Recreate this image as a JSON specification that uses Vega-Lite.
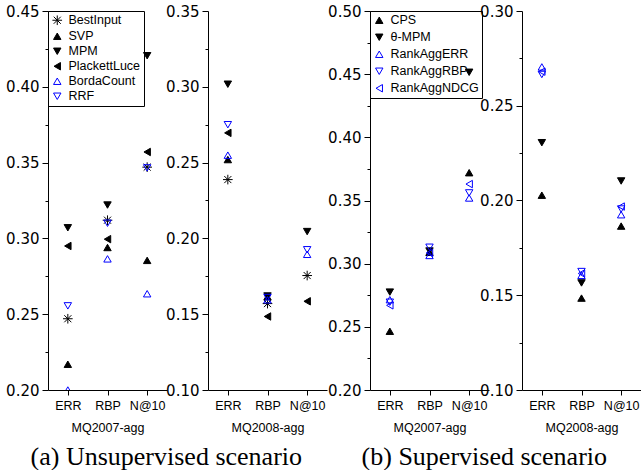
{
  "$schema": "https://vega.github.io/schema/vega-lite/v6.json",
  "padding": {"top": 4, "left": 5, "right": 0, "bottom": 0},
  "config": {
    "view": {"stroke": null},
    "axis": {"domainColor": "black", "tickColor": "black", "labelColor": "black", "titleColor": "black", "grid": false, "domainWidth": 1, "tickWidth": 1}
  },
  "datasets": {
    "unsup": [
      {"d": "MQ2007-agg", "m": "ERR", "s": "BestInput", "v": 0.247},
      {"d": "MQ2007-agg", "m": "ERR", "s": "SVP", "v": 0.217},
      {"d": "MQ2007-agg", "m": "ERR", "s": "MPM", "v": 0.307},
      {"d": "MQ2007-agg", "m": "ERR", "s": "PlackettLuce", "v": 0.295},
      {"d": "MQ2007-agg", "m": "ERR", "s": "BordaCount", "v": 0.2},
      {"d": "MQ2007-agg", "m": "ERR", "s": "RRF", "v": 0.2555},
      {"d": "MQ2007-agg", "m": "RBP", "s": "BestInput", "v": 0.312},
      {"d": "MQ2007-agg", "m": "RBP", "s": "SVP", "v": 0.294},
      {"d": "MQ2007-agg", "m": "RBP", "s": "MPM", "v": 0.322},
      {"d": "MQ2007-agg", "m": "RBP", "s": "PlackettLuce", "v": 0.2995},
      {"d": "MQ2007-agg", "m": "RBP", "s": "BordaCount", "v": 0.2865},
      {"d": "MQ2007-agg", "m": "RBP", "s": "RRF", "v": 0.31},
      {"d": "MQ2007-agg", "m": "N@10", "s": "BestInput", "v": 0.347},
      {"d": "MQ2007-agg", "m": "N@10", "s": "SVP", "v": 0.2855},
      {"d": "MQ2007-agg", "m": "N@10", "s": "MPM", "v": 0.4205},
      {"d": "MQ2007-agg", "m": "N@10", "s": "PlackettLuce", "v": 0.357},
      {"d": "MQ2007-agg", "m": "N@10", "s": "BordaCount", "v": 0.2635},
      {"d": "MQ2007-agg", "m": "N@10", "s": "RRF", "v": 0.3465},
      {"d": "MQ2008-agg", "m": "ERR", "s": "BestInput", "v": 0.2388},
      {"d": "MQ2008-agg", "m": "ERR", "s": "SVP", "v": 0.252},
      {"d": "MQ2008-agg", "m": "ERR", "s": "MPM", "v": 0.3017},
      {"d": "MQ2008-agg", "m": "ERR", "s": "PlackettLuce", "v": 0.2696},
      {"d": "MQ2008-agg", "m": "ERR", "s": "BordaCount", "v": 0.2549},
      {"d": "MQ2008-agg", "m": "ERR", "s": "RRF", "v": 0.275},
      {"d": "MQ2008-agg", "m": "RBP", "s": "BestInput", "v": 0.157},
      {"d": "MQ2008-agg", "m": "RBP", "s": "SVP", "v": 0.1615},
      {"d": "MQ2008-agg", "m": "RBP", "s": "MPM", "v": 0.162},
      {"d": "MQ2008-agg", "m": "RBP", "s": "PlackettLuce", "v": 0.1485},
      {"d": "MQ2008-agg", "m": "RBP", "s": "BordaCount", "v": 0.1595},
      {"d": "MQ2008-agg", "m": "RBP", "s": "RRF", "v": 0.161},
      {"d": "MQ2008-agg", "m": "N@10", "s": "BestInput", "v": 0.1755},
      {"d": "MQ2008-agg", "m": "N@10", "s": "MPM", "v": 0.2045},
      {"d": "MQ2008-agg", "m": "N@10", "s": "PlackettLuce", "v": 0.1585},
      {"d": "MQ2008-agg", "m": "N@10", "s": "BordaCount", "v": 0.1895},
      {"d": "MQ2008-agg", "m": "N@10", "s": "RRF", "v": 0.1925}
    ],
    "sup": [
      {"d": "MQ2007-agg", "m": "ERR", "s": "CPS", "v": 0.2465},
      {"d": "MQ2007-agg", "m": "ERR", "s": "θ-MPM", "v": 0.2775},
      {"d": "MQ2007-agg", "m": "ERR", "s": "RankAggERR", "v": 0.2715},
      {"d": "MQ2007-agg", "m": "ERR", "s": "RankAggRBP", "v": 0.2695},
      {"d": "MQ2007-agg", "m": "ERR", "s": "RankAggNDCG", "v": 0.267},
      {"d": "MQ2007-agg", "m": "RBP", "s": "CPS", "v": 0.309},
      {"d": "MQ2007-agg", "m": "RBP", "s": "θ-MPM", "v": 0.31},
      {"d": "MQ2007-agg", "m": "RBP", "s": "RankAggERR", "v": 0.3065},
      {"d": "MQ2007-agg", "m": "RBP", "s": "RankAggRBP", "v": 0.313},
      {"d": "MQ2007-agg", "m": "RBP", "s": "RankAggNDCG", "v": 0.3085},
      {"d": "MQ2007-agg", "m": "N@10", "s": "CPS", "v": 0.372},
      {"d": "MQ2007-agg", "m": "N@10", "s": "θ-MPM", "v": 0.4515},
      {"d": "MQ2007-agg", "m": "N@10", "s": "RankAggERR", "v": 0.352},
      {"d": "MQ2007-agg", "m": "N@10", "s": "RankAggRBP", "v": 0.356},
      {"d": "MQ2007-agg", "m": "N@10", "s": "RankAggNDCG", "v": 0.363},
      {"d": "MQ2008-agg", "m": "ERR", "s": "CPS", "v": 0.2028},
      {"d": "MQ2008-agg", "m": "ERR", "s": "θ-MPM", "v": 0.2305},
      {"d": "MQ2008-agg", "m": "ERR", "s": "RankAggERR", "v": 0.2705},
      {"d": "MQ2008-agg", "m": "ERR", "s": "RankAggRBP", "v": 0.2665},
      {"d": "MQ2008-agg", "m": "ERR", "s": "RankAggNDCG", "v": 0.268},
      {"d": "MQ2008-agg", "m": "RBP", "s": "CPS", "v": 0.1485},
      {"d": "MQ2008-agg", "m": "RBP", "s": "θ-MPM", "v": 0.1565},
      {"d": "MQ2008-agg", "m": "RBP", "s": "RankAggERR", "v": 0.1605},
      {"d": "MQ2008-agg", "m": "RBP", "s": "RankAggRBP", "v": 0.1625},
      {"d": "MQ2008-agg", "m": "RBP", "s": "RankAggNDCG", "v": 0.1615},
      {"d": "MQ2008-agg", "m": "N@10", "s": "CPS", "v": 0.1865},
      {"d": "MQ2008-agg", "m": "N@10", "s": "θ-MPM", "v": 0.2103},
      {"d": "MQ2008-agg", "m": "N@10", "s": "RankAggERR", "v": 0.1925},
      {"d": "MQ2008-agg", "m": "N@10", "s": "RankAggRBP", "v": 0.1955},
      {"d": "MQ2008-agg", "m": "N@10", "s": "RankAggNDCG", "v": 0.1968}
    ]
  },
  "spacing": 0,
  "resolve": {"scale": {"x": "independent", "y": "independent", "shape": "independent", "fill": "independent", "stroke": "independent"}, "legend": {"shape": "independent", "fill": "independent", "stroke": "independent"}},
  "hconcat": [
    {
      "title": {"text": "(a) Unsupervised scenario", "orient": "bottom", "anchor": "middle", "font": "Liberation Serif", "fontSize": 26, "fontWeight": "normal", "color": "black", "offset": 10},
      "spacing": -2,
      "resolve": {"scale": {"x": "independent", "y": "independent", "shape": "independent", "fill": "independent", "stroke": "independent"}, "legend": {"shape": "independent", "fill": "independent", "stroke": "independent"}},
      "hconcat": [
        {
          "width": 119, "height": 379,
          "data": {"name": "unsup"},
          "transform": [{"filter": "datum.d == 'MQ2007-agg'"}],
          "mark": {"type": "point", "filled": true, "size": 55, "strokeWidth": 1, "opacity": 1, "clip": true},
          "encoding": {
            "x": {"field": "m", "type": "nominal", "scale": {"type": "point", "domain": ["ERR", "RBP", "N@10"], "padding": 0.5},
              "axis": {"title": "MQ2007-agg", "labelAngle": 0, "labelFont": "Liberation Sans", "labelFontSize": 12.5, "tickSize": 5, "labelPadding": 4, "titleFont": "Liberation Sans", "titleFontSize": 12.5, "titleFontWeight": "normal", "titlePadding": 10}},
            "y": {"field": "v", "type": "quantitative", "scale": {"domain": [0.2, 0.45], "nice": false, "zero": false},
              "axis": {"title": null, "values": [0.2, 0.225, 0.25, 0.275, 0.3, 0.325, 0.35, 0.375, 0.4, 0.425, 0.45], "labelExpr": "abs(round(datum.value*20)-datum.value*20) < 0.001 ? format(datum.value, '.2f') : ''", "tickSize": {"condition": {"test": "abs(round(datum.value*20)-datum.value*20) < 0.001", "value": 6}, "value": 3}, "labelFont": "DejaVu Sans", "labelFontSize": 15, "labelPadding": 3, "labelOverlap": false}},
            "shape": {"field": "s", "type": "nominal", "scale": {"domain": ["BestInput", "SVP", "MPM", "PlackettLuce", "BordaCount", "RRF"], "range": ["M-1.3,0L1.3,0M0,-1.3L0,1.3M-0.95,-0.95L0.95,0.95M-0.95,0.95L0.95,-0.95", "triangle-up", "triangle-down", "triangle-left", "triangle-up", "triangle-down"]},
              "legend": {"title": null, "orient": "top-left", "offset": 0, "strokeColor": "black", "padding": 3, "labelFont": "Liberation Sans", "labelFontSize": 12.5, "labelColor": "black", "symbolSize": 55, "rowPadding": 2, "labelOffset": 5, "symbolStrokeWidth": 1}},
            "fill": {"field": "s", "type": "nominal", "scale": {"domain": ["BestInput", "SVP", "MPM", "PlackettLuce", "BordaCount", "RRF"], "range": ["transparent", "black", "black", "black", "transparent", "transparent"]},
              "legend": {"title": null, "orient": "top-left", "offset": 0, "strokeColor": "black", "padding": 3, "labelFont": "Liberation Sans", "labelFontSize": 12.5, "labelColor": "black", "symbolSize": 55, "rowPadding": 2, "labelOffset": 5, "symbolStrokeWidth": 1}},
            "stroke": {"field": "s", "type": "nominal", "scale": {"domain": ["BestInput", "SVP", "MPM", "PlackettLuce", "BordaCount", "RRF"], "range": ["black", "black", "black", "black", "#0000ff", "#0000ff"]},
              "legend": {"title": null, "orient": "top-left", "offset": 0, "strokeColor": "black", "padding": 3, "labelFont": "Liberation Sans", "labelFontSize": 12.5, "labelColor": "black", "symbolSize": 55, "rowPadding": 2, "labelOffset": 5, "symbolStrokeWidth": 1}}
          }
        },
        {
          "width": 119, "height": 379,
          "data": {"name": "unsup"},
          "transform": [{"filter": "datum.d == 'MQ2008-agg'"}],
          "mark": {"type": "point", "filled": true, "size": 55, "strokeWidth": 1, "opacity": 1, "clip": true},
          "encoding": {
            "x": {"field": "m", "type": "nominal", "scale": {"type": "point", "domain": ["ERR", "RBP", "N@10"], "padding": 0.5},
              "axis": {"title": "MQ2008-agg", "labelAngle": 0, "labelFont": "Liberation Sans", "labelFontSize": 12.5, "tickSize": 5, "labelPadding": 4, "titleFont": "Liberation Sans", "titleFontSize": 12.5, "titleFontWeight": "normal", "titlePadding": 10}},
            "y": {"field": "v", "type": "quantitative", "scale": {"domain": [0.1, 0.35], "nice": false, "zero": false},
              "axis": {"title": null, "values": [0.1, 0.125, 0.15, 0.175, 0.2, 0.225, 0.25, 0.275, 0.3, 0.325, 0.35], "labelExpr": "abs(round(datum.value*20)-datum.value*20) < 0.001 ? format(datum.value, '.2f') : ''", "tickSize": {"condition": {"test": "abs(round(datum.value*20)-datum.value*20) < 0.001", "value": 6}, "value": 3}, "labelFont": "DejaVu Sans", "labelFontSize": 15, "labelPadding": 3, "labelOverlap": false}},
            "shape": {"field": "s", "type": "nominal", "scale": {"domain": ["BestInput", "SVP", "MPM", "PlackettLuce", "BordaCount", "RRF"], "range": ["M-1.3,0L1.3,0M0,-1.3L0,1.3M-0.95,-0.95L0.95,0.95M-0.95,0.95L0.95,-0.95", "triangle-up", "triangle-down", "triangle-left", "triangle-up", "triangle-down"]}, "legend": null},
            "fill": {"field": "s", "type": "nominal", "scale": {"domain": ["BestInput", "SVP", "MPM", "PlackettLuce", "BordaCount", "RRF"], "range": ["transparent", "black", "black", "black", "transparent", "transparent"]}, "legend": null},
            "stroke": {"field": "s", "type": "nominal", "scale": {"domain": ["BestInput", "SVP", "MPM", "PlackettLuce", "BordaCount", "RRF"], "range": ["black", "black", "black", "black", "#0000ff", "#0000ff"]}, "legend": null}
          }
        }
      ]
    },
    {
      "title": {"text": "(b) Supervised scenario", "orient": "bottom", "anchor": "middle", "font": "Liberation Serif", "fontSize": 26, "fontWeight": "normal", "color": "black", "offset": 10},
      "spacing": -10,
      "resolve": {"scale": {"x": "independent", "y": "independent", "shape": "independent", "fill": "independent", "stroke": "independent"}, "legend": {"shape": "independent", "fill": "independent", "stroke": "independent"}},
      "hconcat": [
        {
          "width": 119, "height": 379,
          "data": {"name": "sup"},
          "transform": [{"filter": "datum.d == 'MQ2007-agg'"}],
          "mark": {"type": "point", "filled": true, "size": 55, "strokeWidth": 1, "opacity": 1, "clip": true},
          "encoding": {
            "x": {"field": "m", "type": "nominal", "scale": {"type": "point", "domain": ["ERR", "RBP", "N@10"], "padding": 0.5},
              "axis": {"title": "MQ2007-agg", "labelAngle": 0, "labelFont": "Liberation Sans", "labelFontSize": 12.5, "tickSize": 5, "labelPadding": 4, "titleFont": "Liberation Sans", "titleFontSize": 12.5, "titleFontWeight": "normal", "titlePadding": 10}},
            "y": {"field": "v", "type": "quantitative", "scale": {"domain": [0.2, 0.5], "nice": false, "zero": false},
              "axis": {"title": null, "values": [0.2, 0.225, 0.25, 0.275, 0.3, 0.325, 0.35, 0.375, 0.4, 0.425, 0.45, 0.475, 0.5], "labelExpr": "abs(round(datum.value*20)-datum.value*20) < 0.001 ? format(datum.value, '.2f') : ''", "tickSize": {"condition": {"test": "abs(round(datum.value*20)-datum.value*20) < 0.001", "value": 6}, "value": 3}, "labelFont": "DejaVu Sans", "labelFontSize": 15, "labelPadding": 3, "labelOverlap": false}},
            "shape": {"field": "s", "type": "nominal", "scale": {"domain": ["CPS", "θ-MPM", "RankAggERR", "RankAggRBP", "RankAggNDCG"], "range": ["triangle-up", "triangle-down", "triangle-up", "triangle-down", "triangle-left"]},
              "legend": {"title": null, "orient": "top-left", "offset": 0, "strokeColor": "black", "padding": 3, "labelFont": "Liberation Sans", "labelFontSize": 12.5, "labelColor": "black", "symbolSize": 55, "rowPadding": 4, "labelOffset": 5, "symbolStrokeWidth": 1}},
            "fill": {"field": "s", "type": "nominal", "scale": {"domain": ["CPS", "θ-MPM", "RankAggERR", "RankAggRBP", "RankAggNDCG"], "range": ["black", "black", "transparent", "transparent", "transparent"]},
              "legend": {"title": null, "orient": "top-left", "offset": 0, "strokeColor": "black", "padding": 3, "labelFont": "Liberation Sans", "labelFontSize": 12.5, "labelColor": "black", "symbolSize": 55, "rowPadding": 4, "labelOffset": 5, "symbolStrokeWidth": 1}},
            "stroke": {"field": "s", "type": "nominal", "scale": {"domain": ["CPS", "θ-MPM", "RankAggERR", "RankAggRBP", "RankAggNDCG"], "range": ["black", "black", "#0000ff", "#0000ff", "#0000ff"]},
              "legend": {"title": null, "orient": "top-left", "offset": 0, "strokeColor": "black", "padding": 3, "labelFont": "Liberation Sans", "labelFontSize": 12.5, "labelColor": "black", "symbolSize": 55, "rowPadding": 4, "labelOffset": 5, "symbolStrokeWidth": 1}}
          }
        },
        {
          "width": 119, "height": 379,
          "data": {"name": "sup"},
          "transform": [{"filter": "datum.d == 'MQ2008-agg'"}],
          "mark": {"type": "point", "filled": true, "size": 55, "strokeWidth": 1, "opacity": 1, "clip": true},
          "encoding": {
            "x": {"field": "m", "type": "nominal", "scale": {"type": "point", "domain": ["ERR", "RBP", "N@10"], "padding": 0.5},
              "axis": {"title": "MQ2008-agg", "labelAngle": 0, "labelFont": "Liberation Sans", "labelFontSize": 12.5, "tickSize": 5, "labelPadding": 4, "titleFont": "Liberation Sans", "titleFontSize": 12.5, "titleFontWeight": "normal", "titlePadding": 10}},
            "y": {"field": "v", "type": "quantitative", "scale": {"domain": [0.1, 0.3], "nice": false, "zero": false},
              "axis": {"title": null, "values": [0.1, 0.125, 0.15, 0.175, 0.2, 0.225, 0.25, 0.275, 0.3], "labelExpr": "abs(round(datum.value*20)-datum.value*20) < 0.001 ? format(datum.value, '.2f') : ''", "tickSize": {"condition": {"test": "abs(round(datum.value*20)-datum.value*20) < 0.001", "value": 6}, "value": 3}, "labelFont": "DejaVu Sans", "labelFontSize": 15, "labelPadding": 3, "labelOverlap": false}},
            "shape": {"field": "s", "type": "nominal", "scale": {"domain": ["CPS", "θ-MPM", "RankAggERR", "RankAggRBP", "RankAggNDCG"], "range": ["triangle-up", "triangle-down", "triangle-up", "triangle-down", "triangle-left"]}, "legend": null},
            "fill": {"field": "s", "type": "nominal", "scale": {"domain": ["CPS", "θ-MPM", "RankAggERR", "RankAggRBP", "RankAggNDCG"], "range": ["black", "black", "transparent", "transparent", "transparent"]}, "legend": null},
            "stroke": {"field": "s", "type": "nominal", "scale": {"domain": ["CPS", "θ-MPM", "RankAggERR", "RankAggRBP", "RankAggNDCG"], "range": ["black", "black", "#0000ff", "#0000ff", "#0000ff"]}, "legend": null}
          }
        }
      ]
    }
  ]
}
